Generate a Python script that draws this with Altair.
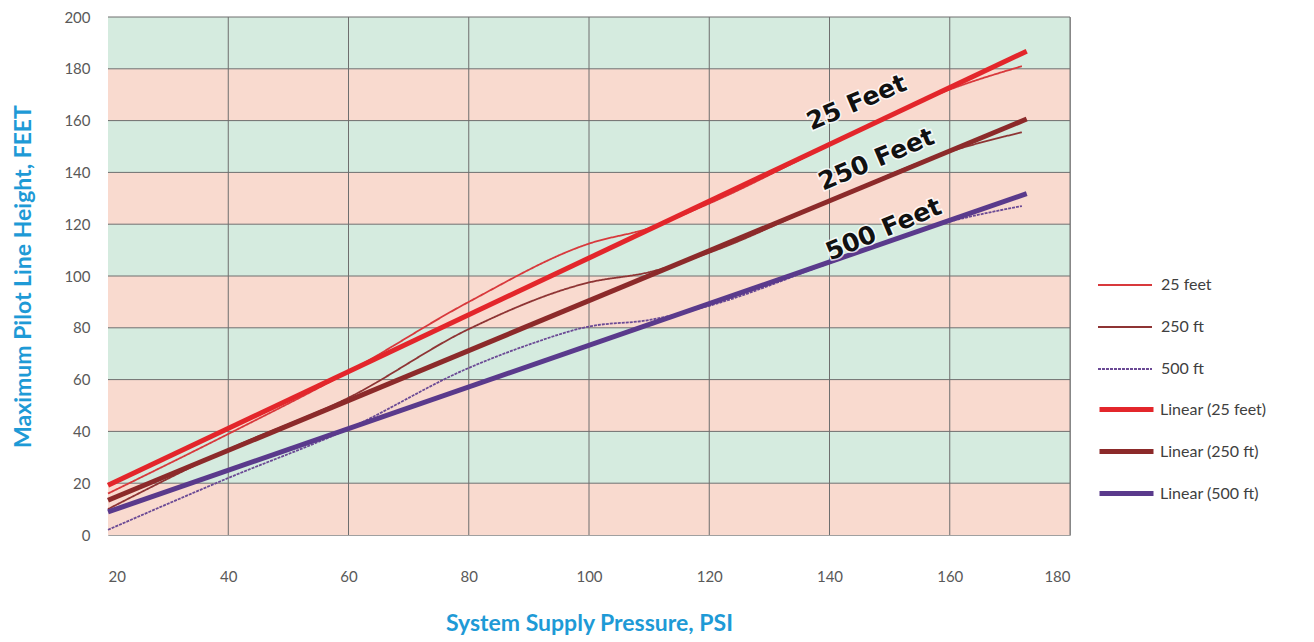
import altair as alt
import pandas as pd

# ---- data ----
raw_x_25 = [20, 40, 60, 80, 100, 110, 120, 140, 160, 172]
raw_y_25 = [16, 39, 63, 90, 112.5, 118.5, 128, 150.5, 172, 181]

raw_x_250 = [20, 40, 60, 80, 100, 110, 120, 140, 160, 172]
raw_y_250 = [10, 33, 53, 79.5, 97.5, 101.5, 109, 129, 148, 155.5]

raw_x_500 = [20, 40, 60, 80, 90, 100, 110, 120, 140, 160, 172]
raw_y_500 = [2, 22, 41, 64.5, 73.5, 80.5, 83, 88.5, 105, 121, 127]

lin_x = [20, 172.8]
lin_y_25 = [19.2, 186.8]
lin_y_250 = [13.4, 160.6]
lin_y_500 = [8.9, 131.8]

raw_names = ["25 feet", "250 ft", "500 ft"]
raw_colors = ["#D8393C", "#8E3434", "#6B4A95"]
raw_dash = [[1, 0], [1, 0], [3, 1]]
lin_names = ["Linear (25 feet)", "Linear (250 ft)", "Linear (500 ft)"]
lin_colors = ["#E3262B", "#8C2A2A", "#5A3A8C"]

band_lo = [0, 20, 40, 60, 80, 100, 120, 140, 160, 180]
band_colors = ["#F9DACF", "#D5EBDF", "#F9DACF", "#D5EBDF", "#F9DACF",
               "#D5EBDF", "#F9DACF", "#D5EBDF", "#F9DACF", "#D5EBDF"]

grid_x = [40, 60, 80, 100, 120, 140, 160, 180]
grid_y = [20, 40, 60, 80, 100, 120, 140, 160, 180, 200]

label_text = ["25 Feet", "250 Feet", "500 Feet"]
label_x = [144.5, 147.8, 149.0]
label_y = [167, 145, 118]

# ---- tables ----
rows = []
for name, xs, ys in [("25 feet", raw_x_25, raw_y_25),
                     ("250 ft", raw_x_250, raw_y_250),
                     ("500 ft", raw_x_500, raw_y_500)]:
    for xv, yv in zip(xs, ys):
        rows.append({"series": name, "x": xv, "y": yv})
raw_df = pd.DataFrame(rows)

rows = []
for name, ys in [("Linear (25 feet)", lin_y_25),
                 ("Linear (250 ft)", lin_y_250),
                 ("Linear (500 ft)", lin_y_500)]:
    for xv, yv in zip(lin_x, ys):
        rows.append({"trend": name, "x": xv, "y": yv})
lin_df = pd.DataFrame(rows)

band_df = pd.DataFrame({"lo": band_lo, "hi": [v + 20 for v in band_lo],
                        "fill": band_colors})
gx_df = pd.DataFrame({"gx": grid_x})
gy_df = pd.DataFrame({"gy": grid_y})
lab_df = pd.DataFrame({"text": label_text, "x": label_x, "y": label_y})

W, H = 962, 518
XT = "System Supply Pressure, PSI"
YT = "Maximum Pilot Line Height, FEET"
xscale = alt.Scale(domain=[20, 180], nice=False, zero=False)
yscale = alt.Scale(domain=[0, 200], nice=False)

xaxis = alt.Axis(values=[20, 40, 60, 80, 100, 120, 140, 160, 180],
                 title=XT, grid=False,
                 tickSize=0, labelPadding=34, titlePadding=28)
yaxis = alt.Axis(values=list(range(0, 201, 20)),
                 title=YT, grid=False,
                 tickSize=0, labelPadding=18, titlePadding=28)

bands = alt.Chart(band_df).mark_rect().encode(
    x=alt.X("x0:Q", scale=xscale, axis=xaxis, title=XT),
    x2="x1:Q",
    y=alt.Y("lo:Q", scale=yscale, axis=yaxis, title=YT),
    y2="hi:Q",
    fill=alt.Fill("fill:N", scale=None),
).transform_calculate(x0="20", x1="180")

vgrid = alt.Chart(gx_df).mark_rule(color="#6E6E6E", strokeWidth=1).encode(
    x=alt.X("gx:Q", scale=xscale, title=XT),
)
hgrid = alt.Chart(gy_df).mark_rule(color="#6E6E6E", strokeWidth=1).encode(
    y=alt.Y("gy:Q", scale=yscale, title=YT),
)

leg_common = dict(title=None, orient="none", legendX=989,
                  symbolType="stroke", symbolSize=2916,
                  labelFontSize=16, labelFont="Lato", labelColor="#404040")
raw_legend = alt.Legend(legendY=240, symbolStrokeWidth=1.8, rowPadding=6,
                        labelOffset=8, **leg_common)
lin_legend = alt.Legend(legendY=363, symbolStrokeWidth=5, rowPadding=2,
                        labelOffset=4, **leg_common)

raw_lines = alt.Chart(raw_df).mark_line(interpolate="monotone", strokeWidth=1.8).encode(
    x=alt.X("x:Q", scale=xscale, title=XT),
    y=alt.Y("y:Q", scale=yscale, title=YT),
    color=alt.Color("series:N", scale=alt.Scale(domain=raw_names, range=raw_colors),
                    legend=raw_legend, sort=raw_names, title=None),
    strokeDash=alt.StrokeDash("series:N", scale=alt.Scale(domain=raw_names, range=raw_dash),
                              legend=raw_legend, sort=raw_names, title=None),
)
lin_lines = alt.Chart(lin_df).mark_line(strokeWidth=5).encode(
    x=alt.X("x:Q", scale=xscale, title=XT),
    y=alt.Y("y:Q", scale=yscale, title=YT),
    stroke=alt.Stroke("trend:N", scale=alt.Scale(domain=lin_names, range=lin_colors),
                      legend=lin_legend, sort=lin_names, title=None),
)

halo = alt.Chart(lab_df).mark_text(
    font="DejaVu Sans", fontWeight="bold", fontSize=25, angle=337,
    stroke="white", strokeWidth=3, strokeOpacity=0.8, fill="white"
).encode(x=alt.X("x:Q", scale=xscale), y=alt.Y("y:Q", scale=yscale), text="text:N")
labels = alt.Chart(lab_df).mark_text(
    font="DejaVu Sans", fontWeight="bold", fontSize=25, angle=337, color="#111111"
).encode(x=alt.X("x:Q", scale=xscale), y=alt.Y("y:Q", scale=yscale), text="text:N")

chart = alt.layer(bands, vgrid, hgrid, raw_lines, lin_lines, halo, labels).properties(
    width=W, height=H,
    autosize=alt.AutoSizeParams(type="none"),
    padding={"left": 100, "top": 9, "right": 236, "bottom": 106},
).configure_view(stroke="#A0A0A0", strokeWidth=1).configure_axis(
    domain=False,
    labelFont="Lato", labelFontSize=15, labelColor="#595959",
    titleFont="Lato", titleFontSize=23, titleFontWeight="bold", titleColor="#1E9AD6",
)

chart.save("out.html", embed_options={"renderer": "svg", "actions": False})
